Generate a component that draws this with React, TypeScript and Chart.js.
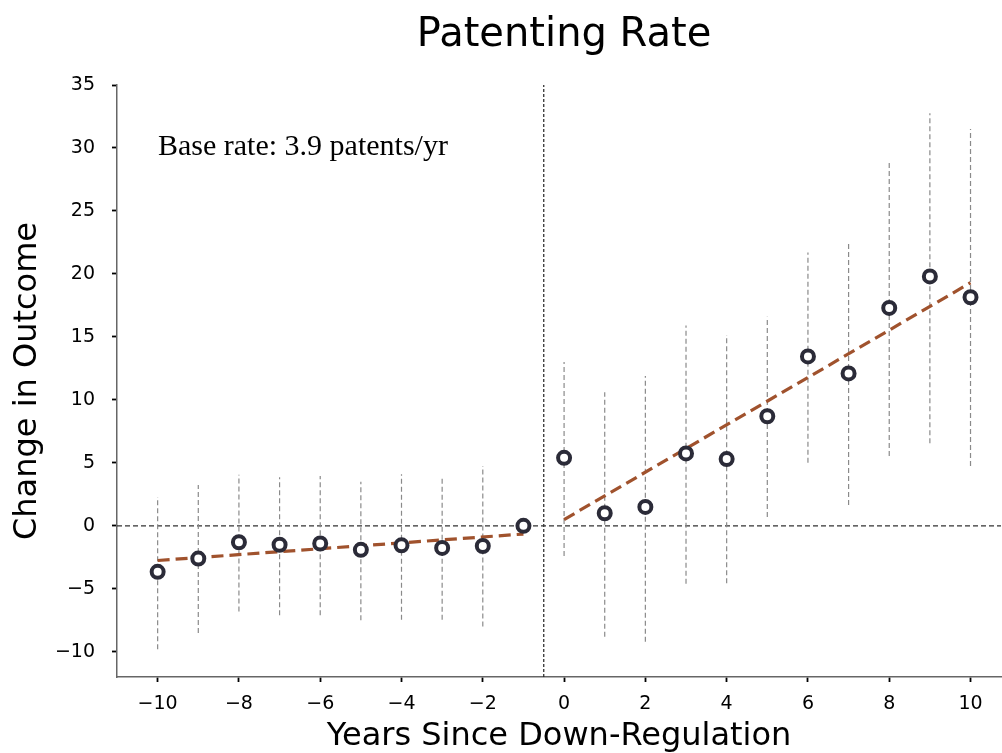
import React, { useEffect, useRef } from "react";
import { Chart, registerables } from "chart.js";

Chart.register(...registerables);

// ---- Data ----
const years = [-10, -9, -8, -7, -6, -5, -4, -3, -2, -1, 0, 1, 2, 3, 4, 5, 6, 7, 8, 9, 10];
const estimates = [-3.65, -2.6, -1.3, -1.5, -1.4, -1.9, -1.55, -1.75, -1.6, 0.0, 5.4, 1.0, 1.5, 5.75, 5.3, 8.7, 13.45, 12.1, 17.3, 19.8, 18.15];
const ciLow = [-9.8, -8.5, -6.8, -7.1, -7.1, -7.5, -7.45, -7.45, -8.0, null, -2.4, -8.8, -9.2, -4.6, -4.55, 0.7, 5.0, 1.65, 5.55, 6.55, 4.75];
const ciHigh = [2.3, 3.25, 4.05, 3.85, 3.95, 3.5, 4.1, 3.95, 4.75, null, 13.0, 10.6, 11.9, 15.9, 15.15, 16.6, 21.7, 22.5, 29.0, 32.75, 31.5];

const preTrendX = [-10, -1];
const preTrendY = [-2.75, -0.65];
const postTrendX = [0, 10];
const postTrendY = [0.5, 19.3];

const eventLineX = -0.5;
const zeroLineY = 0;

const xTickValues = [-10, -8, -6, -4, -2, 0, 2, 4, 6, 8, 10];
const yTickValues = [-10, -5, 0, 5, 10, 15, 20, 25, 30, 35];

const xMin = -11;
const xMax = 10.75; // figure is cropped on the right
const xAxesLimit = 11;
const yMin = -12;
const yMax = 35;

const titleText = "Patenting Rate";
const xTitle = "Years Since Down-Regulation";
const yTitle = "Change in Outcome";
const noteText = "Base rate: 3.9 patents/yr";

const fmt = (v: number | string) => {
  const n = Number(v);
  return n < 0 ? "\u2212" + Math.abs(n) : String(n);
};

export default function App() {
  const ref = useRef<HTMLCanvasElement>(null);

  useEffect(() => {
    document.body.style.margin = "0";
    const canvas = ref.current;
    if (!canvas) return;

    const errData: { x: number; y: number | null }[] = [];
    years.forEach((x, i) => {
      const lo = ciLow[i];
      const hi = ciHigh[i];
      if (lo !== null && hi !== null) {
        errData.push({ x, y: lo }, { x, y: hi }, { x, y: null });
      }
    });

    const overlay = {
      id: "overlay",
      afterDraw(chart: any) {
        const { ctx, chartArea, scales } = chart;
        ctx.save();
        ctx.fillStyle = "#000";
        const centerX = (chartArea.left + scales.x.getPixelForValue(xAxesLimit)) / 2;
        ctx.font = '40px "DejaVu Sans"';
        ctx.textAlign = "center";
        ctx.textBaseline = "alphabetic";
        ctx.fillText(titleText, centerX, 46);
        ctx.font = '30px "Liberation Serif"';
        ctx.textAlign = "left";
        ctx.fillText(noteText, chartArea.left + 41, chartArea.top + 70);
        ctx.restore();
      },
    };

    const chart = new Chart(canvas, {
      type: "scatter",
      data: {
        datasets: [
          {
            label: "Estimate",
            data: years.map((x, i) => ({ x, y: estimates[i] })),
            pointStyle: "circle",
            pointRadius: 6,
            pointBorderWidth: 4,
            pointBorderColor: "#2b2b38",
            pointBackgroundColor: "#ffffff",
            showLine: false,
            order: 0,
          } as any,
          {
            label: "Pre trend",
            data: preTrendX.map((x, i) => ({ x, y: preTrendY[i] })),
            showLine: true,
            borderColor: "#a0522d",
            borderWidth: 3.2,
            borderDash: [12, 6],
            pointRadius: 0,
            order: 1,
          },
          {
            label: "Post trend",
            data: postTrendX.map((x, i) => ({ x, y: postTrendY[i] })),
            showLine: true,
            borderColor: "#a0522d",
            borderWidth: 3.2,
            borderDash: [12, 6],
            pointRadius: 0,
            order: 1,
          },
          {
            label: "CI",
            data: errData as any,
            showLine: true,
            spanGaps: false,
            borderColor: "#8a8a8a",
            borderWidth: 1.2,
            borderDash: [5, 3],
            pointRadius: 0,
            order: 2,
          },
          {
            label: "Zero",
            data: [
              { x: xMin, y: zeroLineY },
              { x: xAxesLimit, y: zeroLineY },
            ],
            showLine: true,
            borderColor: "#333333",
            borderWidth: 1.3,
            borderDash: [5, 3],
            pointRadius: 0,
            order: 3,
          },
          {
            label: "Event",
            data: [
              { x: eventLineX, y: yMin },
              { x: eventLineX, y: yMax },
            ],
            showLine: true,
            borderColor: "#222222",
            borderWidth: 1.2,
            borderDash: [3, 2],
            pointRadius: 0,
            order: 3,
          },
        ],
      },
      options: {
        responsive: false,
        animation: false,
        events: [],
        layout: { autoPadding: false, padding: { top: 85, right: 1, left: 0, bottom: 0 } },
        plugins: {
          legend: { display: false },
          tooltip: { enabled: false },
          title: { display: false },
        },
        scales: {
          x: {
            type: "linear",
            min: xMin,
            max: xMax,
            afterBuildTicks: (s: any) => {
              s.ticks = xTickValues.map((v) => ({ value: v }));
            },
            afterFit: (s: any) => {
              s.height = 76;
              s.paddingLeft = 0;
              s.paddingRight = 0;
            },
            grid: {
              display: true,
              drawOnChartArea: false,
              drawTicks: true,
              tickLength: 5,
              tickColor: "#000",
              tickWidth: 1.8,
            },
            border: { display: true, color: "#666", width: 1.5 },
            ticks: {
              font: { family: "DejaVu Sans", size: 19 },
              color: "#000",
              padding: 11,
              maxRotation: 0,
              autoSkip: false,
              callback: fmt,
            },
            title: {
              display: true,
              text: xTitle,
              font: { family: "DejaVu Sans", size: 32, lineHeight: 1 },
              color: "#000",
              padding: { top: 0, bottom: 0 },
            },
          },
          y: {
            type: "linear",
            min: yMin,
            max: yMax,
            afterBuildTicks: (s: any) => {
              s.ticks = yTickValues.map((v) => ({ value: v }));
            },
            afterFit: (s: any) => {
              s.width = 117;
              s.paddingTop = 0;
              s.paddingBottom = 0;
            },
            grid: {
              display: true,
              drawOnChartArea: false,
              drawTicks: true,
              tickLength: 5,
              tickColor: "#000",
              tickWidth: 1.8,
            },
            border: { display: true, color: "#666", width: 1.5 },
            ticks: {
              font: { family: "DejaVu Sans", size: 19 },
              color: "#000",
              padding: 17,
              autoSkip: false,
              callback: fmt,
            },
            title: {
              display: true,
              text: yTitle,
              font: { family: "DejaVu Sans", size: 32, lineHeight: 1 },
              color: "#000",
              padding: { top: 12, bottom: 0 },
            },
          },
        },
      } as any,
      plugins: [overlay],
    });

    return () => chart.destroy();
  }, []);

  return <canvas ref={ref} width={1002} height={753} style={{ display: "block" }} />;
}
